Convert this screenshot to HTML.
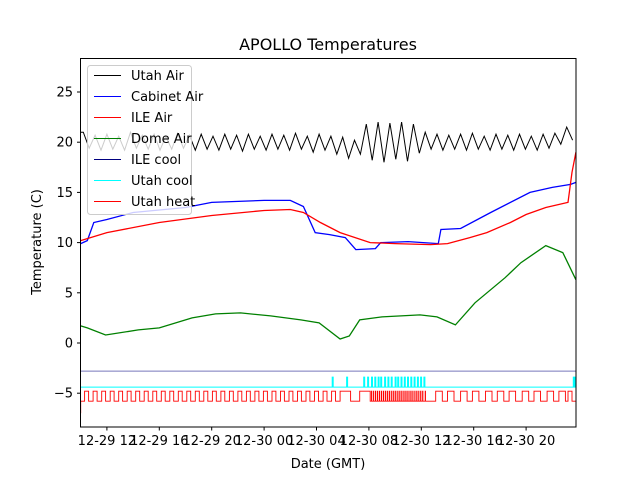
<!DOCTYPE html>
<html><head><meta charset="utf-8"><style>
body{margin:0;background:#fff;}
svg{display:block;font-family:"DejaVu Sans","Liberation Sans",sans-serif;}
</style></head><body>
<svg id="chart" width="640" height="480">
<rect x="0" y="0" width="640" height="480" fill="#fff"/>
<text x="328" y="50" font-size="16" text-anchor="middle">APOLLO Temperatures</text>
<g id="plot"></g>
<rect x="80.5" y="58.5" width="495.5" height="368.5" fill="none" stroke="#000" stroke-width="1"/>
<g id="axes"></g>
<text x="328" y="468" font-size="13" text-anchor="middle">Date (GMT)</text>
<text transform="translate(41,242) rotate(-90)" font-size="13" text-anchor="middle">Temperature (C)</text>
<g id="legend"></g>
</svg>
<script>
const yTicks=[-5,0,5,10,15,20,25];
const xTickHours=[12,16,20,24,28,32,36,40,44];
const xTickLabels=["12-29 12","12-29 16","12-29 20","12-30 00","12-30 04","12-30 08","12-30 12","12-30 16","12-30 20"];
const airPeaks=[21,20.7,20.8,20.6,21,20.7,20.8,20.6,20.9,20.7,20.8,20.6,20.8,20.7,20.8,20.6,20.8,20.7,20.9,20.6,20.8,20.6,20.5,20.2,21.8,22,21.9,22,21.8,21,20.8,20.7,20.8,20.9,20.6,20.8,20.7,20.8,20.6,20.8,20.9,21.5];
const airTroughs=[19.4,19.2,19.3,19.2,19.4,19.3,19.2,19.3,19.4,19.2,19.3,19.2,19.3,19.1,19.3,19.2,19.3,19.2,19.3,19.0,19.2,18.8,18.4,18.8,18.2,18,18.3,18.1,18.9,19.3,19.2,19.3,19.2,19.3,19.2,19.3,19.2,19.3,19.2,19.4,19.8,20.2];
const cabinetT=[10,10.5,11,12,14,18,20,24,26,27,27.9,29,30.2,31,32.5,32.9,35,37.3,37.5,39,41.3,44.3,46,47.4,47.8];
const cabinetV=[9.9,10.2,12,12.3,13,13.5,14,14.2,14.2,13.6,11,10.8,10.5,9.3,9.4,10,10.1,9.9,11.3,11.4,13,15,15.5,15.8,16];
const ileAirT=[10,12,16,20,24,26,27,28.3,29.8,32.1,34,36.7,38,39.7,41,42.8,44,45.5,47.2,47.5,47.8];
const ileAirV=[10.2,11,12,12.7,13.2,13.3,13,12,11,10,9.9,9.8,9.9,10.5,11,12,12.8,13.5,14,17,19];
const domeT=[10,10.5,11.9,14.4,16,18.5,20.3,22.2,24.5,26.8,28.2,29.8,30.5,31.3,33,35.9,37.2,38.6,40.1,42.4,43.6,45.5,46.8,47.8];
const domeV=[1.7,1.5,0.8,1.3,1.5,2.5,2.9,3,2.7,2.3,2,0.4,0.7,2.3,2.6,2.8,2.6,1.8,4,6.5,8,9.7,9,6.3];
const ileCoolV=-2.8;
const utahCoolBase=-4.4, utahCoolOn=-3.4;
const utahCoolSpikes=[29.2,30.3,31.6,31.9,32.2,32.45,32.7,32.9,33.2,33.45,33.7,34.0,34.2,34.45,34.7,34.95,35.2,35.45,35.7,35.95,36.2,47.6,47.7];
const heatLow=-5.8, heatHigh=-4.8;
const heatOnStart=[10.3,10.95,11.6,12.25,12.9,13.55,14.2,14.85,15.5,16.15,16.8,17.45,18.1,18.75,19.4,20.05,20.7,21.35,22.0,22.65,23.3,23.95,24.6,25.25,25.9,26.55,27.2,27.85,28.5,29.15,29.8,31.3,
32.2,32.35,32.5,32.65,32.8,32.95,33.1,33.25,33.4,33.55,33.7,33.85,34.0,34.15,34.3,34.45,34.6,34.75,34.9,35.05,35.2,35.35,35.5,35.65,35.8,35.95,36.1,36.3,
37.1,38.0,39.0,39.9,40.9,41.8,42.7,43.7,44.6,45.6,46.5,47.2];
const heatOnEnd=[10.6,11.25,11.9,12.55,13.2,13.85,14.5,15.15,15.8,16.45,17.1,17.75,18.4,19.05,19.7,20.35,21.0,21.65,22.3,22.95,23.6,24.25,24.9,25.55,26.2,26.85,27.5,28.15,28.8,29.45,30.6,32.1,
32.22,32.37,32.52,32.67,32.82,32.97,33.12,33.27,33.42,33.57,33.72,33.87,34.02,34.17,34.32,34.47,34.62,34.77,34.92,35.07,35.22,35.37,35.52,35.67,35.82,35.97,36.12,36.32,
37.6,38.5,39.5,40.4,41.4,42.3,43.2,44.2,45.1,46.1,47.0,47.5];
const startH=10, endH=47.8, peakStep=0.9;

const X=h=>80.7+(h-startH)*13.1;
const Y=v=>343-v*10.04;
const NS="http://www.w3.org/2000/svg";
function mk(tag,attrs,parent){const e=document.createElementNS(NS,tag);for(const k in attrs)e.setAttribute(k,attrs[k]);parent.appendChild(e);return e;}
const plot=document.getElementById('plot'), axes=document.getElementById('axes'), legend=document.getElementById('legend');
function line(ts,vs,color,name,w){
  const d=ts.map((t,i)=>(i?'L':'M')+X(t).toFixed(1)+' '+Y(vs[i]).toFixed(1)).join(' ');
  const p=mk('path',{d:d,fill:'none',stroke:color,'stroke-width':w||1},plot);
  
  
}
// Utah air
const uaT=[],uaV=[];
airPeaks.forEach((v,i)=>{const t=startH+0.2+i*peakStep;uaT.push(t);uaV.push(v);if(i<airTroughs.length){uaT.push(t+peakStep/2);uaV.push(airTroughs[i]);}});
uaT.unshift(startH);uaV.unshift(21);
line(uaT,uaV,'#000','utah-air-line');
line(domeT,domeV,'#008000','dome-air-line',1.3);
line(cabinetT,cabinetV,'#0000ff','cabinet-air-line',1.3);
line(ileAirT,ileAirV,'#ff0000','ile-air-line',1.3);
line([startH,endH],[ileCoolV,ileCoolV],'#7777bb','ile-cool-line');
// utah cool
let cd='M'+X(startH)+' '+Y(utahCoolBase);
utahCoolSpikes.forEach(t=>{cd+=' L'+X(t).toFixed(1)+' '+Y(utahCoolBase)+' L'+X(t).toFixed(1)+' '+Y(utahCoolOn)+' L'+(X(t)+1).toFixed(1)+' '+Y(utahCoolOn)+' L'+(X(t)+1).toFixed(1)+' '+Y(utahCoolBase);});
cd+=' L'+X(endH)+' '+Y(utahCoolBase);
const cp=mk('path',{d:cd,fill:'none',stroke:'#00ffff','stroke-width':1},plot);


// utah heat
let hd='M'+X(startH)+' '+Y(-7)+' L'+X(startH)+' '+Y(heatLow);
heatOnStart.forEach((t,i)=>{const a=X(t).toFixed(1),b=X(heatOnEnd[i]).toFixed(1);hd+=' L'+a+' '+Y(heatLow)+' L'+a+' '+Y(heatHigh)+' L'+b+' '+Y(heatHigh)+' L'+b+' '+Y(heatLow);});
hd+=' L'+X(endH)+' '+Y(heatLow);
const hp=mk('path',{d:hd,fill:'none',stroke:'#ff0000','stroke-width':0.9},plot);


// axes
yTicks.forEach(v=>{
  const y=Y(v);
  const t=mk('line',{x1:77,x2:80.5,y1:y,y2:y,stroke:'#000'},axes);
  
  
  const l=mk('text',{x:73,y:y+4.5,'font-size':13,'text-anchor':'end'},axes);
  l.textContent=String(v).replace('-','\u2212');
  
  
});
xTickHours.forEach((h,i)=>{
  const x=X(h);
  const t=mk('line',{x1:x,x2:x,y1:427,y2:430.5,stroke:'#000'},axes);
  
  
  const l=mk('text',{x:x,y:445,'font-size':13,'text-anchor':'middle'},axes);
  l.textContent=xTickLabels[i];
  
  
});
// legend
const lb=mk('rect',{x:87.5,y:65.5,width:104,height:149,rx:3,fill:'#fff','fill-opacity':0.8,stroke:'#ccc'},legend);


const legNames=["Utah Air","Cabinet Air","ILE Air","Dome Air","ILE cool","Utah cool","Utah heat"];
const legColors=["#000","#0000ff","#ff0000","#008000","#000080","#00ffff","#ff0000"];
legNames.forEach((n,i)=>{
  const y=75.5+i*21;
  const g=mk('g',{},legend);
  
  
  mk('line',{x1:94,x2:121,y1:y,y2:y,stroke:legColors[i],'stroke-width':1},g);
  const t=mk('text',{x:131,y:y+4.5,'font-size':13},g);
  t.textContent=n;
});
</script>
</body></html>
